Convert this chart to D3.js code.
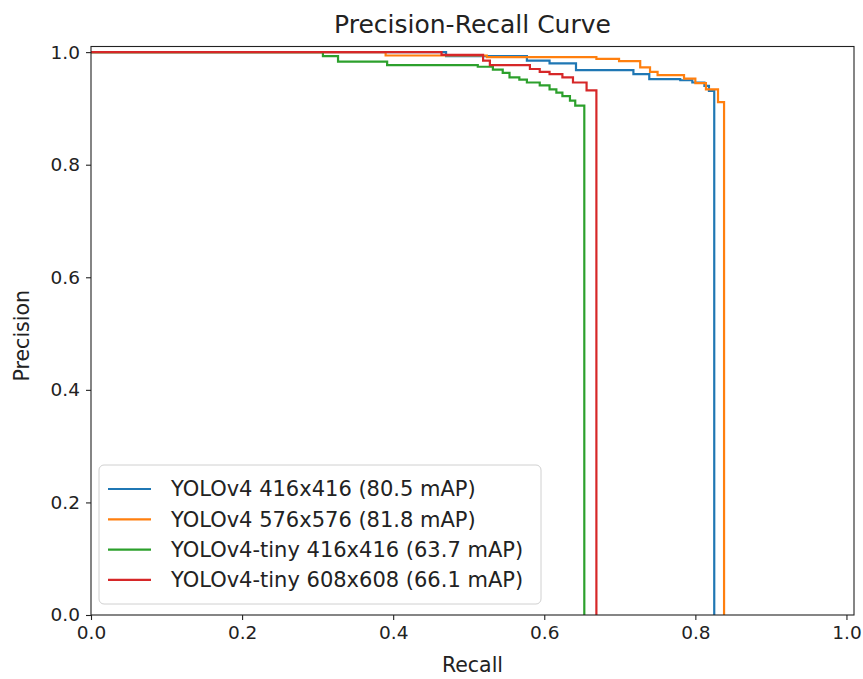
<!DOCTYPE html>
<html>
<head>
<meta charset="utf-8">
<script src="https://cdn.jsdelivr.net/npm/d3@7"></script>
<style>
  body { margin: 0; background: #fff; }
  svg text { font-family: "DejaVu Sans", sans-serif; fill: #222; }
</style>
</head>
<body>
<div id="chart"></div>
<script>
// Series: [recall, precision], precision holds from this recall to the next one
const seriesNames = [
    "YOLOv4 416x416 (80.5 mAP)",
    "YOLOv4 576x576 (81.8 mAP)",
    "YOLOv4-tiny 416x416 (63.7 mAP)",
    "YOLOv4-tiny 608x608 (66.1 mAP)"
];
const seriesColors = ["#1f77b4", "#ff7f0e", "#2ca02c", "#d62728"];

const yolo416 = [
    [0, 1.0], [0.47, 0.993], [0.577, 0.985], [0.607, 0.980], [0.642, 0.968],
    [0.718, 0.961], [0.739, 0.952], [0.780, 0.950], [0.796, 0.946],
    [0.812, 0.940], [0.818, 0.931], [0.825, 0]
];
const yolo576 = [
    [0, 1.0], [0.39, 0.994], [0.524, 0.991], [0.669, 0.988], [0.699, 0.984],
    [0.727, 0.973], [0.740, 0.965], [0.750, 0.959], [0.785, 0.953],
    [0.800, 0.945], [0.814, 0.934], [0.830, 0.911], [0.838, 0]
];
const tiny416 = [
    [0, 1.0], [0.307, 0.993], [0.327, 0.983], [0.392, 0.977], [0.512, 0.974],
    [0.532, 0.969], [0.545, 0.963], [0.554, 0.955], [0.567, 0.951],
    [0.577, 0.946], [0.594, 0.941], [0.607, 0.934], [0.616, 0.928],
    [0.624, 0.922], [0.634, 0.914], [0.641, 0.905], [0.653, 0]
];
const tiny608 = [
    [0, 1.0], [0.464, 0.995], [0.519, 0.985], [0.528, 0.977], [0.581, 0.970],
    [0.594, 0.965], [0.607, 0.961], [0.624, 0.955], [0.638, 0.946],
    [0.656, 0.932], [0.669, 0]
];
const allSeries = [yolo416, yolo576, tiny416, tiny608];

const xTicks = [0, 0.2, 0.4, 0.6, 0.8, 1.0];
const yTicks = [0, 0.2, 0.4, 0.6, 0.8, 1.0];

const width = 863, height = 679;
const margin = { left: 91, right: 9, top: 46.5, bottom: 64 };

const svg = d3.select("#chart").append("svg")
    .attr("width", width)
    .attr("height", height);

const x = d3.scaleLinear().domain([0, 1.01]).range([margin.left, width - margin.right]);
const y = d3.scaleLinear().domain([0, 1.01]).range([height - margin.bottom, margin.top]);

svg.append("clipPath").attr("id", "plotClip")
    .append("rect")
    .attr("x", x(0)).attr("y", y(1.01))
    .attr("width", x(1.01) - x(0)).attr("height", y(0) - y(1.01));

// Curves
const line = d3.line()
    .x(d => x(d[0]))
    .y(d => y(d[1]))
    .curve(d3.curveStepAfter);

svg.append("g")
    .attr("clip-path", "url(#plotClip)")
    .selectAll("path")
    .data(allSeries)
    .join("path")
    .attr("d", line)
    .attr("fill", "none")
    .attr("stroke", (d, i) => seriesColors[i])
    .attr("stroke-width", 2.2);

// Axes
const xAxis = svg.append("g")
    .attr("transform", `translate(0,${y(0)})`)
    .call(d3.axisBottom(x).tickValues(xTicks).tickFormat(d3.format(".1f")).tickSize(5).tickPadding(6));
const yAxis = svg.append("g")
    .attr("transform", `translate(${x(0)},0)`)
    .call(d3.axisLeft(y).tickValues(yTicks).tickFormat(d3.format(".1f")).tickSize(5).tickPadding(6));

[xAxis, yAxis].forEach(a => {
    a.select(".domain").remove();
    a.selectAll(".tick line").attr("stroke", "#222").attr("stroke-width", 1.1);
    a.selectAll(".tick text").style("font-size", "18.5px").attr("fill", "#222");
});

// Frame
svg.append("rect")
    .attr("x", x(0)).attr("y", y(1.01))
    .attr("width", x(1.01) - x(0)).attr("height", y(0) - y(1.01))
    .attr("fill", "none")
    .attr("stroke", "#222")
    .attr("stroke-width", 1.1);

// Title and labels
svg.append("text")
    .attr("x", (x(0) + x(1.01)) / 2)
    .attr("y", 33)
    .attr("text-anchor", "middle")
    .style("font-size", "25px")
    .text("Precision-Recall Curve");

svg.append("text")
    .attr("x", (x(0) + x(1.01)) / 2)
    .attr("y", 672)
    .attr("text-anchor", "middle")
    .style("font-size", "20.5px")
    .text("Recall");

svg.append("text")
    .attr("transform", `translate(29,${(y(0) + y(1.01)) / 2 + 5}) rotate(-90)`)
    .attr("text-anchor", "middle")
    .style("font-size", "20.5px")
    .text("Precision");

// Legend
const legend = svg.append("g").attr("transform", "translate(99,465)");
legend.append("rect")
    .attr("width", 442).attr("height", 139)
    .attr("rx", 5)
    .attr("fill", "#fff").attr("fill-opacity", 0.8)
    .attr("stroke", "#d0d0d0");

const items = legend.selectAll("g.item")
    .data(seriesNames)
    .join("g")
    .attr("class", "item")
    .attr("transform", (d, i) => `translate(0,${24 + i * 30.3})`);

items.append("line")
    .attr("x1", 9).attr("x2", 52)
    .attr("stroke", (d, i) => seriesColors[i])
    .attr("stroke-width", 2.2);

items.append("text")
    .attr("x", 72)
    .attr("dy", "0.35em")
    .style("font-size", "21px")
    .text(d => d);
</script>
</body>
</html>
